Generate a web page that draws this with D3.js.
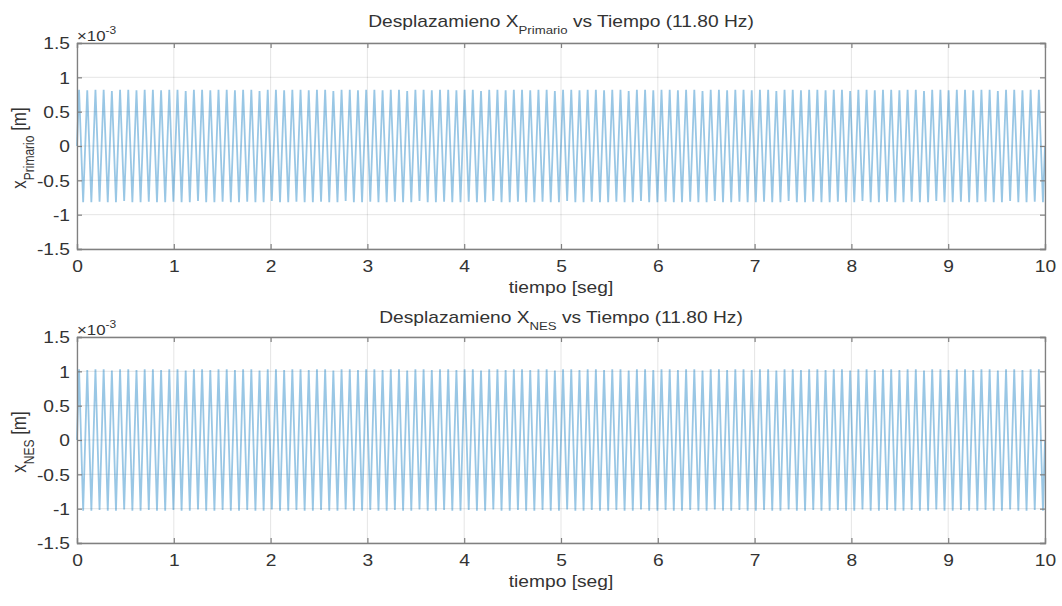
<!DOCTYPE html>
<html>
<head>
<meta charset="utf-8">
<script src="https://cdn.jsdelivr.net/npm/d3@7"></script>
<style>
    body { margin: 0; background: #fff; }
    text { font-family: "Liberation Sans", Arial, Helvetica, sans-serif; fill: #333; }
</style>
</head>
<body>
<div id="chart"></div>
<script>
// frecuencia de excitacion (Hz) y duracion (seg)
const frecuencia = 11.80;
const duracion = 10;

// picos y valles de cada ciclo (x10^-3 m)
const picosPrimario = [
    0.82, 0.81, 0.82, 0.82, 0.80, 0.82, 0.82, 0.81, 0.82, 0.82, 0.81, 0.82, 0.82, 0.80, 0.82, 0.82, 0.81, 0.82, 0.82, 0.81,
    0.82, 0.82, 0.80, 0.82, 0.82, 0.81, 0.82, 0.82, 0.81, 0.82, 0.82, 0.80, 0.82, 0.82, 0.81, 0.82, 0.82, 0.81, 0.82, 0.82,
    0.80, 0.82, 0.82, 0.81, 0.82, 0.82, 0.81, 0.82, 0.82, 0.80, 0.82, 0.82, 0.81, 0.82, 0.82, 0.81, 0.82, 0.82, 0.80, 0.82,
    0.82, 0.81, 0.82, 0.82, 0.81, 0.82, 0.82, 0.80, 0.82, 0.82, 0.81, 0.82, 0.82, 0.81, 0.82, 0.82, 0.80, 0.82, 0.82, 0.81,
    0.82, 0.82, 0.81, 0.82, 0.82, 0.80, 0.82, 0.82, 0.81, 0.82, 0.82, 0.81, 0.82, 0.82, 0.80, 0.82, 0.82, 0.81, 0.82, 0.82,
    0.81, 0.82, 0.82, 0.80, 0.82, 0.82, 0.81, 0.82, 0.82, 0.81, 0.82, 0.82, 0.80, 0.82, 0.82, 0.81, 0.82, 0.82
];
const vallesPrimario = [
    -0.82, -0.82, -0.81, -0.82, -0.82, -0.80, -0.82, -0.82, -0.81, -0.82, -0.82, -0.81, -0.82, -0.82, -0.80, -0.82, -0.82, -0.81, -0.82, -0.82,
    -0.81, -0.82, -0.82, -0.80, -0.82, -0.82, -0.81, -0.82, -0.82, -0.81, -0.82, -0.82, -0.80, -0.82, -0.82, -0.81, -0.82, -0.82, -0.81, -0.82,
    -0.82, -0.80, -0.82, -0.82, -0.81, -0.82, -0.82, -0.81, -0.82, -0.82, -0.80, -0.82, -0.82, -0.81, -0.82, -0.82, -0.81, -0.82, -0.82, -0.80,
    -0.82, -0.82, -0.81, -0.82, -0.82, -0.81, -0.82, -0.82, -0.80, -0.82, -0.82, -0.81, -0.82, -0.82, -0.81, -0.82, -0.82, -0.80, -0.82, -0.82,
    -0.81, -0.82, -0.82, -0.81, -0.82, -0.82, -0.80, -0.82, -0.82, -0.81, -0.82, -0.82, -0.81, -0.82, -0.82, -0.80, -0.82, -0.82, -0.81, -0.82,
    -0.82, -0.81, -0.82, -0.82, -0.80, -0.82, -0.82, -0.81, -0.82, -0.82, -0.81, -0.82, -0.82, -0.80, -0.82, -0.82, -0.81, -0.82
];
const picosNES = [
    1.03, 1.02, 1.03, 1.03, 1.01, 1.03, 1.03, 1.02, 1.03, 1.03, 1.02, 1.03, 1.03, 1.01, 1.03, 1.03, 1.02, 1.03, 1.03, 1.02,
    1.03, 1.03, 1.01, 1.03, 1.03, 1.02, 1.03, 1.03, 1.02, 1.03, 1.03, 1.01, 1.03, 1.03, 1.02, 1.03, 1.03, 1.02, 1.03, 1.03,
    1.01, 1.03, 1.03, 1.02, 1.03, 1.03, 1.02, 1.03, 1.03, 1.01, 1.03, 1.03, 1.02, 1.03, 1.03, 1.02, 1.03, 1.03, 1.01, 1.03,
    1.03, 1.02, 1.03, 1.03, 1.02, 1.03, 1.03, 1.01, 1.03, 1.03, 1.02, 1.03, 1.03, 1.02, 1.03, 1.03, 1.01, 1.03, 1.03, 1.02,
    1.03, 1.03, 1.02, 1.03, 1.03, 1.01, 1.03, 1.03, 1.02, 1.03, 1.03, 1.02, 1.03, 1.03, 1.01, 1.03, 1.03, 1.02, 1.03, 1.03,
    1.02, 1.03, 1.03, 1.01, 1.03, 1.03, 1.02, 1.03, 1.03, 1.02, 1.03, 1.03, 1.01, 1.03, 1.03, 1.02, 1.03, 1.03
];
const vallesNES = [
    -1.03, -1.03, -1.02, -1.03, -1.03, -1.01, -1.03, -1.03, -1.02, -1.03, -1.03, -1.02, -1.03, -1.03, -1.01, -1.03, -1.03, -1.02, -1.03, -1.03,
    -1.02, -1.03, -1.03, -1.01, -1.03, -1.03, -1.02, -1.03, -1.03, -1.02, -1.03, -1.03, -1.01, -1.03, -1.03, -1.02, -1.03, -1.03, -1.02, -1.03,
    -1.03, -1.01, -1.03, -1.03, -1.02, -1.03, -1.03, -1.02, -1.03, -1.03, -1.01, -1.03, -1.03, -1.02, -1.03, -1.03, -1.02, -1.03, -1.03, -1.01,
    -1.03, -1.03, -1.02, -1.03, -1.03, -1.02, -1.03, -1.03, -1.01, -1.03, -1.03, -1.02, -1.03, -1.03, -1.02, -1.03, -1.03, -1.01, -1.03, -1.03,
    -1.02, -1.03, -1.03, -1.02, -1.03, -1.03, -1.01, -1.03, -1.03, -1.02, -1.03, -1.03, -1.02, -1.03, -1.03, -1.01, -1.03, -1.03, -1.02, -1.03,
    -1.03, -1.02, -1.03, -1.03, -1.01, -1.03, -1.03, -1.02, -1.03, -1.03, -1.02, -1.03, -1.03, -1.01, -1.03, -1.03, -1.02, -1.03
];

// ticks
const xTicks = [0, 1, 2, 3, 4, 5, 6, 7, 8, 9, 10];
const yTicks = [-1.5, -1, -0.5, 0, 0.5, 1, 1.5];

const width = 1062, height = 606;
const sx = 1.2;   // the figure was stretched sideways, text too

const svg = d3.select("#chart").append("svg")
    .attr("width", width)
    .attr("height", height);

// puntos: inicio en 0, pico y valle por ciclo, fin en 0
function toPoints(picos, valles) {
    const pts = [{t: 0, v: 0}];
    picos.forEach((p, i) => {
        pts.push({t: (i + 0.25) / frecuencia, v: p});
        pts.push({t: (i + 0.75) / frecuencia, v: valles[i]});
    });
    pts.push({t: duracion, v: 0});
    return pts;
}

function drawPanel(opts) {
    const {top, bottom, titleGap, sub, ysub, data} = opts;
    const left = 77, right = 1045;

    const x = d3.scaleLinear().domain([0, 10]).range([left, right]);
    const y = d3.scaleLinear().domain([-1.5, 1.5]).range([bottom, top]);

    const g = svg.append("g");

    // grid
    g.append("g").selectAll("line").data(xTicks).join("line")
        .attr("x1", d => x(d)).attr("x2", d => x(d))
        .attr("y1", top).attr("y2", bottom)
        .attr("stroke", "#262626").attr("stroke-opacity", 0.12).attr("stroke-width", 1);
    g.append("g").selectAll("line").data(yTicks).join("line")
        .attr("x1", left).attr("x2", right)
        .attr("y1", d => y(d)).attr("y2", d => y(d))
        .attr("stroke", "#262626").attr("stroke-opacity", 0.12).attr("stroke-width", 1);

    // signal
    const line = d3.line().x(d => x(d.t)).y(d => y(d.v));
    g.append("path")
        .datum(data)
        .attr("fill", "none")
        .attr("stroke", "#0072BD")
        .attr("stroke-opacity", 0.4)
        .attr("stroke-width", 1.8)
        .attr("d", line);

    // axes (ticks inward, box on)
    const axCol = "#808080";
    const bx = g.append("g").attr("transform", `translate(0,${bottom})`)
        .call(d3.axisBottom(x).tickValues(xTicks).tickSize(-5).tickPadding(12).tickFormat(d3.format("d")));
    const lx = g.append("g").attr("transform", `translate(${left},0)`)
        .call(d3.axisLeft(y).tickValues(yTicks).tickSize(-5).tickPadding(6).tickFormat(d => String(d)));
    const tx = g.append("g").attr("transform", `translate(0,${top})`)
        .call(d3.axisTop(x).tickValues(xTicks).tickSize(-5).tickFormat(""));
    const rx = g.append("g").attr("transform", `translate(${right},0)`)
        .call(d3.axisRight(y).tickValues(yTicks).tickSize(-5).tickFormat(""));
    [bx, lx, tx, rx].forEach(a => {
        a.select(".domain").attr("stroke", axCol).attr("stroke-width", 1.3);
        a.selectAll(".tick line").attr("stroke", axCol).attr("stroke-width", 1.2);
        a.selectAll(".tick text")
            .style("font-family", "Liberation Sans, Arial, sans-serif")
            .style("font-size", "16px")
            .attr("fill", "#333")
            .attr("transform", `scale(${sx},1)`);
    });
    lx.selectAll(".tick text").attr("dy", "0.36em").attr("x", -7 / sx);

    // exponent
    const ex = g.append("text")
        .attr("transform", `translate(${left},${top - 2}) scale(${sx},1)`)
        .style("font-size", "14px");
    ex.append("tspan").text("\u00d710");
    ex.append("tspan").attr("dy", -7).style("font-size", "10px").text("-3");

    // title
    const t = g.append("text")
        .attr("transform", `translate(${(left + right) / 2},${top - titleGap}) scale(${sx},1)`)
        .attr("text-anchor", "middle").style("font-size", "16px");
    t.append("tspan").text("Desplazamieno X");
    t.append("tspan").attr("dy", 7).style("font-size", "11px").text(sub);
    t.append("tspan").attr("dy", -7).text(" vs Tiempo (11.80 Hz)");

    // x label
    g.append("text")
        .attr("transform", `translate(${(left + right) / 2},${bottom + 44}) scale(${sx},1)`)
        .attr("text-anchor", "middle").style("font-size", "16px").text("tiempo [seg]");

    // y label
    const yl = g.append("text")
        .attr("transform", `translate(26,${(top + bottom) / 2 + 2}) scale(${sx},1) rotate(-90)`)
        .attr("text-anchor", "middle").style("font-size", "17px");
    yl.append("tspan").text("x");
    yl.append("tspan").attr("dy", 7).style("font-size", "12px").text(ysub);
    yl.append("tspan").attr("dy", -7).text(" [m]");
}

drawPanel({
    top: 43, bottom: 249, titleGap: 16,
    sub: "Primario", ysub: "Primario",
    data: toPoints(picosPrimario, vallesPrimario)
});

drawPanel({
    top: 337, bottom: 543, titleGap: 14,
    sub: "NES", ysub: "NES",
    data: toPoints(picosNES, vallesNES)
});
</script>
</body>
</html>
